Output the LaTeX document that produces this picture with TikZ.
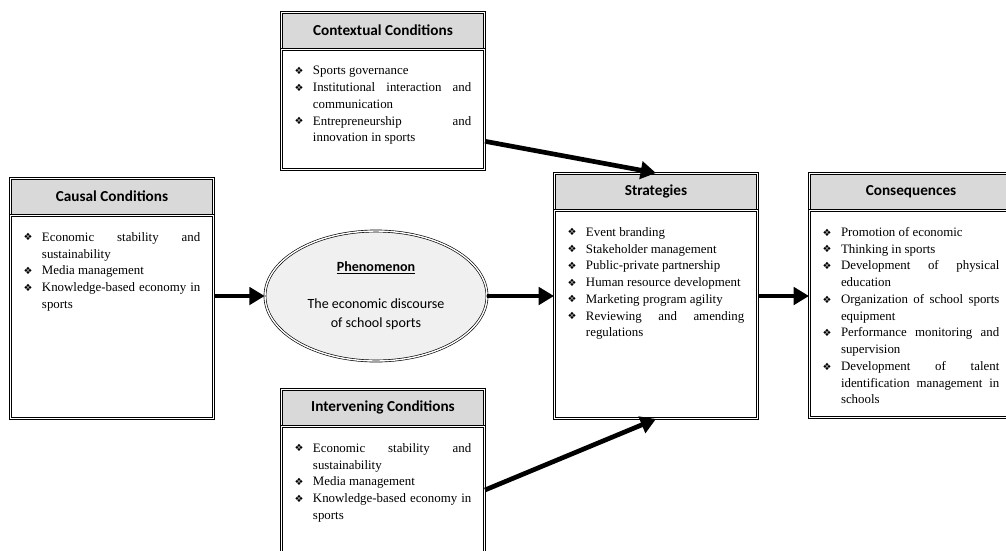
\documentclass[tikz,border=0pt]{standalone}
\usepackage{fontspec}
\setmainfont{Liberation Serif}
\newfontfamily\headfont{Carlito}
\newfontfamily\symfont{DejaVu Sans}
\usetikzlibrary{arrows.meta,positioning,shapes.geometric}
\definecolor{headgray}{RGB}{217,217,217}
\definecolor{phengray}{RGB}{240,240,240}

\newcommand{\bitem}[1]{\par\hangindent=0.55cm\hangafter=1\noindent
  \makebox[0.55cm][l]{\raisebox{0.3pt}{\symfont\fontsize{8.5}{10}\selectfont ❖}}#1}
\newcommand{\itemlist}[2]{\parbox[t][#1][t]{5.3cm}{\fontsize{11}{14.3}\selectfont
  \hyphenpenalty=10000\exhyphenpenalty=10000\tolerance=10000 #2}}

\begin{document}
\begin{tikzpicture}[x=0.03cm,y=-0.03cm,
  headbox/.style={draw,double,double distance=1.2pt,line width=0.55pt,fill=headgray,
    minimum width=6.1cm,minimum height=1.1cm,inner sep=0pt,
    font=\headfont\bfseries\fontsize{13}{15}\selectfont},
  bodybox/.style={draw,double,double distance=1.2pt,line width=0.55pt,fill=white,
    inner xsep=0.4cm,inner ysep=0.5cm,below=0pt of #1},
  flow/.style={-{Triangle[length=4.6mm,width=5.2mm]},line width=4pt}]
  \path[use as bounding box] (0,0) rectangle (1006,550);
  \clip (0,0) rectangle (1006,550);

  % causal conditions
  \node[headbox,anchor=north west] (causalH) at (10,178) {Causal Conditions};
  \node[bodybox=causalH] (causalB) {\itemlist{5.09cm}{%
    \bitem{Economic stability and\linebreak sustainability}
    \bitem{Media management}
    \bitem{Knowledge-based economy in\linebreak sports}}};

  % contextual conditions
  \node[headbox,anchor=north west] (contextH) at (281,12) {Contextual Conditions};
  \node[bodybox=contextH] (contextB) {\itemlist{2.6cm}{%
    \bitem{Sports governance}
    \bitem{Institutional interaction and\linebreak communication}
    \bitem{Entrepreneurship and\linebreak innovation in sports}}};

  % intervening conditions
  \node[headbox,anchor=north west] (intervH) at (281,389) {Intervening Conditions};
  \node[bodybox=intervH] (intervB) {\itemlist{3.2cm}{%
    \bitem{Economic stability and\linebreak sustainability}
    \bitem{Media management}
    \bitem{Knowledge-based economy in\linebreak sports}}};

  % phenomenon
  \node[ellipse,draw,double,double distance=1.2pt,line width=0.55pt,fill=phengray,
    minimum width=6.66cm,minimum height=3.9cm,inner sep=0pt,align=center,
    font=\headfont\fontsize{12}{16}\selectfont] (phen) at (376,296)
    {{\bfseries\underline{Phenomenon}}\\[0.55cm]The economic discourse\\of school sports};

  % strategies
  \node[headbox,anchor=north west] (stratH) at (554,173) {Strategies};
  \node[bodybox=stratH] (stratB) {\itemlist{5.24cm}{%
    \bitem{Event branding}
    \bitem{Stakeholder management}
    \bitem{Public-private partnership}
    \bitem{Human resource development}
    \bitem{Marketing program agility}
    \bitem{Reviewing and amending\linebreak regulations}}};

  % consequences
  \node[headbox,anchor=north west] (consH) at (809,173) {Consequences};
  \node[bodybox=consH] (consB) {\itemlist{5.21cm}{%
    \bitem{Promotion of economic}
    \bitem{Thinking in sports}
    \bitem{Development of physical\linebreak education}
    \bitem{Organization of school sports\linebreak equipment}
    \bitem{Performance monitoring and\linebreak supervision}
    \bitem{Development of talent\linebreak identification management in\linebreak schools}}};

  \draw[flow] (causalB.east |- phen.west) -- (phen.west);
  \draw[flow] (phen.east) -- (stratB.west |- phen.east);
  \draw[flow] (stratB.east |- phen.east) -- (consB.west |- phen.east);
  \draw[flow] ([yshift=-0.95cm]contextB.east) -- (stratH.north);
  \draw[flow] ([yshift=0.2cm]intervB.east) -- (stratB.south);
\end{tikzpicture}
\end{document}
